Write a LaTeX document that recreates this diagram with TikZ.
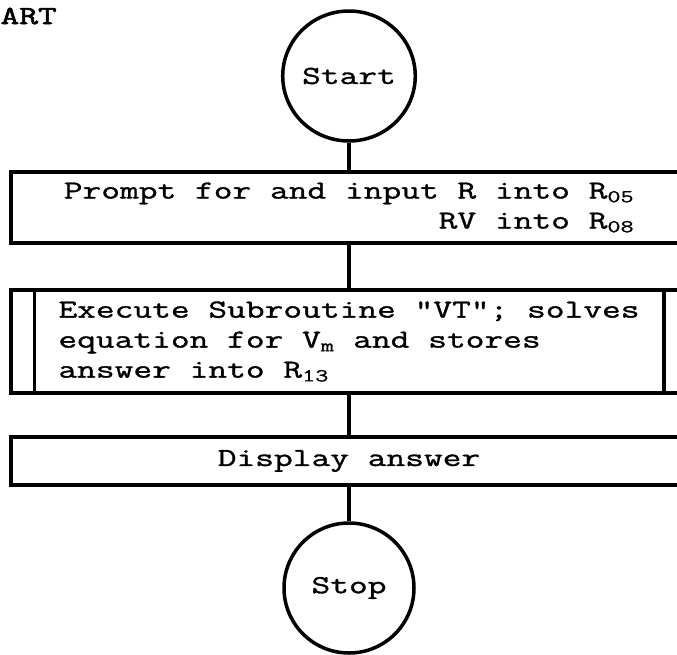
\documentclass[tikz,border=0pt]{standalone}
\usepackage{fontspec}
\newfontfamily\tw[FakeStretch=1.4,FakeBold=1.2]{Latin Modern Mono}
\newfontfamily\twbold[FakeStretch=1.4,FakeBold=2.5]{Latin Modern Mono}
\usetikzlibrary{shapes.geometric,positioning}

\tikzset{
  term/.style={ellipse,draw,line width=3.5pt,minimum width=130pt,minimum height=130pt,inner sep=0pt},
  procbox/.style={rectangle,draw,line width=3.5pt,minimum width=676pt,inner sep=0pt},
  flow/.style={line width=3.5pt}
}

\begin{document}
\begin{tikzpicture}[x=1pt,y=-1pt,font=\tw\fontsize{26}{30}\selectfont]
  \useasboundingbox (0,0) rectangle (677,654);
  \node[anchor=base west,font=\twbold\fontsize{26}{30}\selectfont] (art) at (-3,24) {ART};

  \node[term] (start) at (349,76) {Start};
  \node[procbox,minimum height=71pt,below=27.5pt of start,align=right] (prompt)
    {Prompt for and input R into R\textsubscript{05}\\RV into R\textsubscript{08}};
  \node[procbox,minimum height=103pt,below=43.5pt of prompt,align=left] (vt)
    {Execute Subroutine "VT"; solves\\equation for V\textsubscript{m} and stores\\answer into R\textsubscript{13}};
  \draw[flow] ([xshift=25pt]vt.north west) -- ([xshift=25pt]vt.south west);
  \draw[flow] ([xshift=-25pt]vt.north east) -- ([xshift=-25pt]vt.south east);
  \node[procbox,minimum height=48pt,below=40.5pt of vt] (show) {Display answer};
  \node[term,below=34.5pt of show] (stop) {Stop};

  \draw[flow] (start) -- (prompt);
  \draw[flow] (prompt) -- (vt);
  \draw[flow] (vt) -- (show);
  \draw[flow] (show) -- (stop);
\end{tikzpicture}
\end{document}
